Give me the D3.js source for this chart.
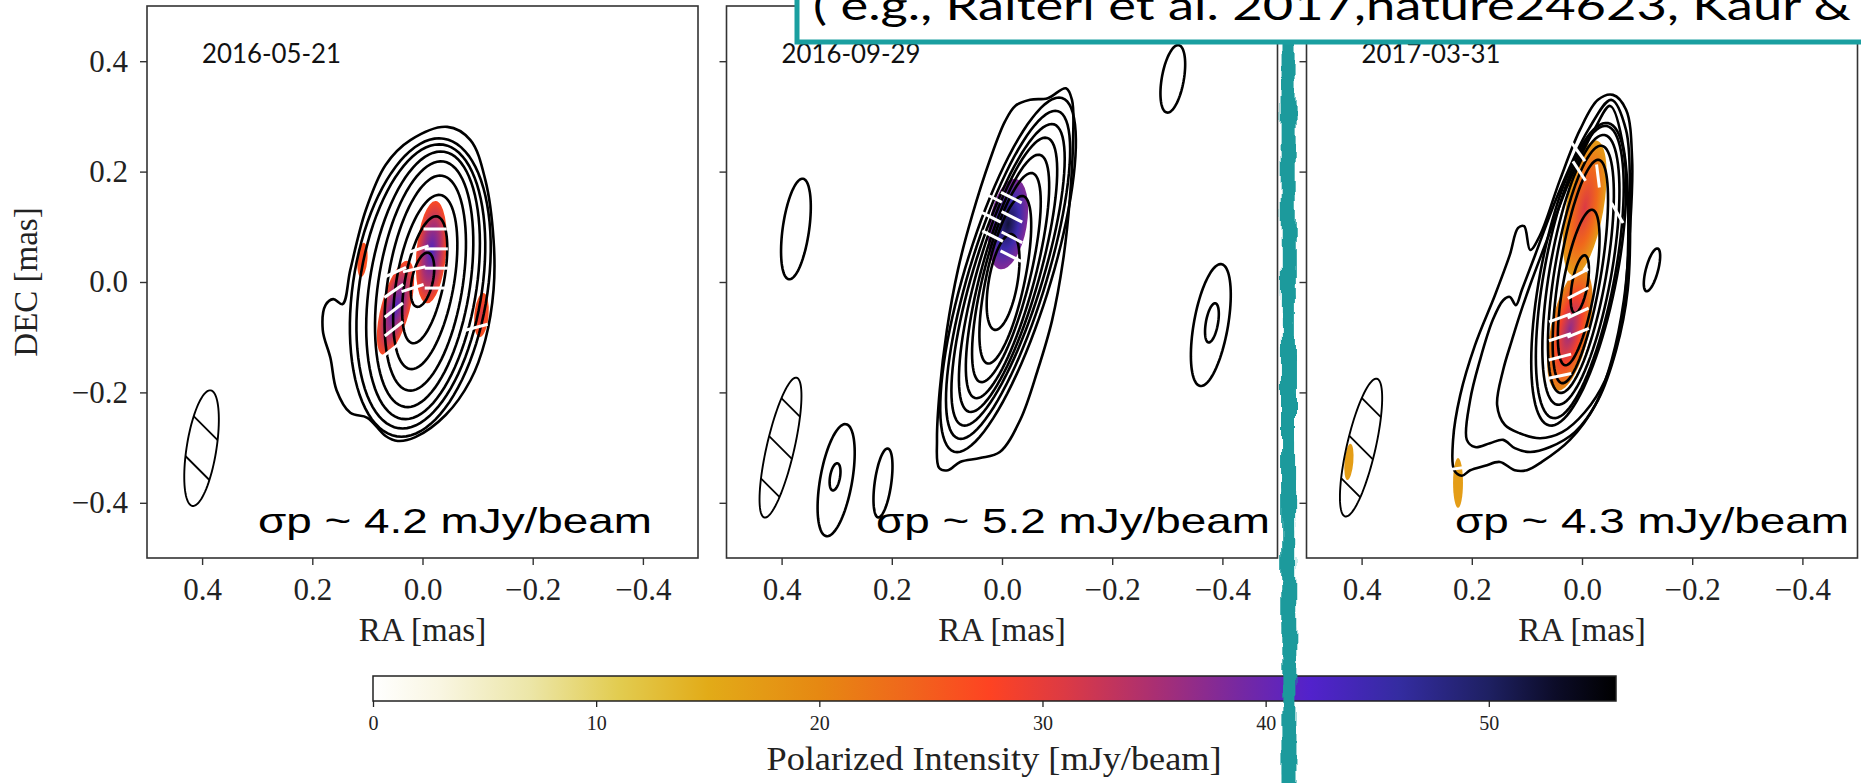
<!DOCTYPE html>
<html>
<head>
<meta charset="utf-8">
<script src="https://cdn.jsdelivr.net/npm/d3@7"></script>
<style>
body { margin:0; background:#fff; }
</style>
</head>
<body>
<div id="chart"></div>
<script>
// ---------- data ----------
var epochs = ["2016-05-21", "2016-09-29", "2017-03-31"];
var sigmaP = [4.2, 5.2, 4.3];
var raTicks = [0.4, 0.2, 0.0, -0.2, -0.4];
var decTicks = [0.4, 0.2, 0.0, -0.2, -0.4];
var cbarTicks = [0, 10, 20, 30, 40, 50];
var cbarMax = 55.7;
var cmapValues = [0, 3, 7, 11, 15, 20, 24, 27.6, 31, 35, 39, 42, 46, 50, 53, 55.7];
var cmapColors = ["#ffffff", "#f9f6e2", "#ece6a8", "#e2cc50", "#e2ab18", "#e68812", "#f0661c", "#fe4322",
                  "#dc3a44", "#aa2f72", "#7428a4", "#5222cc", "#342ca0", "#1e2062", "#0c0c28", "#000000"];

// contour ellipses: [ra, dec, semi-major, semi-minor, position angle (deg)]
var contours1 = [
  [0.004, -0.010, 0.273, 0.122, -9],
  [0.003, -0.008, 0.260, 0.111, -9],
  [-0.001, -0.006, 0.245, 0.097, -9],
  [-0.003, -0.004, 0.225, 0.083, -9],
  [-0.005, -0.002, 0.197, 0.068, -9],
  [-0.005, 0.000, 0.160, 0.052, -10],
  [-0.004, 0.004, 0.117, 0.035, -11],
  [0.000, 0.004, 0.050, 0.019, -12]
];
// irregular outer contours: [ra, dec] points
var outline1 = [
  [-0.045,0.281],[-0.087,0.257],[-0.114,0.185],[-0.129,0.076],[-0.129,-0.014],[-0.114,-0.105],
  [-0.087,-0.178],[-0.042,-0.241],[0.013,-0.281],[0.045,-0.288],[0.067,-0.279],[0.100,-0.246],
  [0.131,-0.237],[0.156,-0.196],[0.167,-0.138],[0.181,-0.087],[0.176,-0.042],[0.162,-0.031],
  [0.145,-0.040],[0.131,0.022],[0.103,0.130],[0.067,0.212],[0.022,0.257]
];
var islands1 = [];

var contours2 = [
  [-0.011, 0.013, 0.335, 0.078, -17],
  [-0.011, 0.013, 0.310, 0.070, -17],
  [-0.011, 0.013, 0.285, 0.063, -17],
  [-0.011, 0.013, 0.258, 0.056, -16],
  [-0.010, 0.010, 0.228, 0.049, -15],
  [-0.008, 0.008, 0.195, 0.042, -14],
  [-0.006, 0.004, 0.155, 0.035, -12],
  [-0.002, 0.000, 0.088, 0.026, -10]
];
var outline2 = [
  [-0.116,0.351],[-0.127,0.330],[-0.129,0.257],[-0.123,0.149],[-0.111,0.040],[-0.091,-0.069],
  [-0.065,-0.159],[-0.033,-0.250],[0.004,-0.308],[0.040,-0.319],[0.076,-0.326],[0.098,-0.341],
  [0.114,-0.337],[0.118,-0.286],[0.113,-0.196],[0.100,-0.087],[0.080,0.022],[0.054,0.121],
  [0.022,0.221],[-0.005,0.290],[-0.024,0.319],[-0.051,0.330],[-0.083,0.333]
];
var islands2 = [
  [0.374, 0.096, 0.092, 0.024, -8],
  [-0.310, 0.368, 0.062, 0.020, -10],
  [-0.379, -0.078, 0.112, 0.031, -10],
  [-0.381, -0.074, 0.036, 0.011, -10],
  [0.301, -0.359, 0.103, 0.029, -10],
  [0.303, -0.353, 0.025, 0.009, -10],
  [0.216, -0.364, 0.063, 0.015, -8]
];

var contours3 = [
  [0.006, 0.014, 0.279, 0.069, -11],
  [0.004, 0.018, 0.269, 0.064, -10.5],
  [0.002, 0.022, 0.248, 0.056, -10],
  [0.002, 0.023, 0.227, 0.047, -9.6],
  [0.003, 0.019, 0.205, 0.038, -9.4],
  [0.006, -0.010, 0.143, 0.029, -10],
  [0.004, -0.004, 0.053, 0.014, -10]
];
var outline3 = [
  [-0.056,0.339],[-0.080,0.312],[-0.091,0.221],[-0.087,0.094],[-0.076,-0.033],[-0.054,-0.141],
  [-0.024,-0.223],[0.022,-0.286],[0.073,-0.326],[0.100,-0.341],[0.122,-0.341],[0.149,-0.326],
  [0.176,-0.333],[0.203,-0.341],[0.218,-0.351],[0.232,-0.341],[0.234,-0.286],[0.221,-0.205],
  [0.194,-0.114],[0.158,-0.024],[0.131,0.049],[0.116,0.098],[0.105,0.101],[0.094,0.058],
  [0.076,0.085],[0.040,0.185],[0.004,0.275],[-0.029,0.330]
];
var outline3b = [
  [-0.053,0.330],[-0.080,0.275],[-0.087,0.149],[-0.083,-0.014],[-0.062,-0.123],[-0.029,-0.214],
  [0.013,-0.272],[0.058,-0.299],[0.094,-0.308],[0.122,-0.301],[0.143,-0.286],[0.167,-0.292],
  [0.194,-0.299],[0.209,-0.286],[0.203,-0.214],[0.185,-0.141],[0.162,-0.069],[0.143,-0.033],
  [0.131,-0.027],[0.120,-0.042],[0.109,-0.014],[0.085,0.049],[0.040,0.167],[-0.011,0.275]
];
var outline3c = [
  [-0.051,0.319],[-0.076,0.239],[-0.083,0.040],[-0.069,-0.087],[-0.042,-0.178],[-0.005,-0.236],
  [0.036,-0.272],[0.076,-0.283],[0.113,-0.274],[0.140,-0.259],[0.154,-0.223],[0.143,-0.159],
  [0.127,-0.105],[0.113,-0.060],[0.094,-0.005],[0.067,0.067],[0.022,0.185],[-0.024,0.279]
];
var islands3 = [
  [-0.127, 0.022, 0.040, 0.011, -15]
];

// polarized intensity patches: [ra, dec, semi-major, semi-minor, pa, peak, edge]
var patches1 = [
  [-0.016, 0.054, 0.093, 0.027, -5, 43, 27],
  [0.049, -0.047, 0.088, 0.026, -15, 43, 27],
  [0.109, 0.040, 0.031, 0.009, -5, 28, 26],
  [-0.107, -0.060, 0.040, 0.013, -5, 31, 26]
];
var patches2 = [
  [-0.011, 0.105, 0.083, 0.034, -10, 52, 38]
];
var patches3 = [
  [0.004, 0.212, 0.045, 0.011, -30, 17, 17],
  [-0.005, 0.134, 0.124, 0.034, -10, 31, 17],
  [0.022, -0.087, 0.112, 0.035, -12, 37, 20],
  [0.225, -0.364, 0.045, 0.009, 0, 17, 17],
  [0.423, -0.326, 0.033, 0.008, -5, 17, 17]
];

// EVPA sticks: [ra, dec, angle on the page (deg, anticlockwise)]
var evpa1 = [
  [-0.023,0.096,0],[-0.025,0.060,0],[-0.025,0.025,0],[-0.025,-0.011,0],
  [0.009,0.059,18],[0.015,0.023,13],[0.018,-0.011,18],
  [0.049,0.018,24],[0.052,-0.016,35],[0.052,-0.051,38],[0.052,-0.085,38],[0.054,-0.121,38],
  [-0.098,-0.082,15]
];
var evpa2 = [
  [0.019,0.154,-27],[-0.017,0.153,-27],[0.021,0.118,-27],[-0.018,0.118,-27],
  [0.017,0.083,-27],[-0.018,0.081,-27],[-0.016,0.047,-27]
];
var evpa3 = [
  [0.007,0.236,-54],[0.005,0.201,-57],[-0.029,0.192,-83],[-0.064,0.125,-60],
  [0.007,0.014,28],[0.007,-0.020,27],[0.007,-0.056,25],[0.007,-0.092,22],
  [0.040,-0.065,20],[0.040,-0.100,18],[0.040,-0.136,15],[0.040,-0.170,12],
  [0.221,-0.337,8]
];

// restoring beams: [ra, dec, semi-major, semi-minor, pa]
var beams = [
  [0.401, -0.301, 0.106, 0.027, -9],
  [0.402, -0.300, 0.130, 0.025, -13],
  [0.401, -0.300, 0.128, 0.026, -13]
];
var beamHatch = [2, 3, 3];

var banner = "( e.g., Raiteri et al. 2017,nature24623, Kaur &";

// ---------- layout ----------
var W = 551, H = 552, panelTop = 6;
var lefts = [147, 726.5, 1306.5];
var sigmaX = [258, 876, 1455];
var serif = "'Liberation Serif', 'DejaVu Serif', serif";

var panels = [
  {date: epochs[0], sigma: sigmaP[0], ell: contours1, outl: [outline1], isl: islands1, pat: patches1, evpa: evpa1},
  {date: epochs[1], sigma: sigmaP[1], ell: contours2, outl: [outline2], isl: islands2, pat: patches2, evpa: evpa2},
  {date: epochs[2], sigma: sigmaP[2], ell: contours3, outl: [outline3, outline3b, outline3c], isl: islands3, pat: patches3, evpa: evpa3}
];

var svg = d3.select("#chart").append("svg")
    .attr("width", 1861).attr("height", 783);
svg.append("rect").attr("width", 1861).attr("height", 783).attr("fill", "#fff");
var defs = svg.append("defs");

var color = d3.scaleLinear().domain(cmapValues).range(cmapColors).clamp(true);

var x = d3.scaleLinear().domain([0.5, -0.5]).range([0, W]);
var y = d3.scaleLinear().domain([-0.5, 0.5]).range([H, 0]);

function ellipsePts(e) {
    var pa = e[4] * Math.PI / 180, pts = [];
    for (var i = 0; i < 90; i++) {
        var t = i / 90 * 2 * Math.PI;
        var u = e[2] * Math.cos(t), v = e[3] * Math.sin(t);
        pts.push([e[0] + u * Math.sin(pa) + v * Math.cos(pa),
                  e[1] + u * Math.cos(pa) - v * Math.sin(pa)]);
    }
    return pts;
}
var ellLine = d3.line().x(function(d){ return x(d[0]); }).y(function(d){ return y(d[1]); })
    .curve(d3.curveLinearClosed);
var smoothLine = d3.line().x(function(d){ return x(d[0]); }).y(function(d){ return y(d[1]); })
    .curve(d3.curveCatmullRomClosed.alpha(0.5));

panels.forEach(function(p, i) {
    var g = svg.append("g").attr("transform", "translate(" + lefts[i] + "," + panelTop + ")");

    defs.append("clipPath").attr("id", "clip" + i)
        .append("rect").attr("width", W).attr("height", H);
    var inner = g.append("g").attr("clip-path", "url(#clip" + i + ")");

    // polarized intensity
    p.pat.forEach(function(d, j) {
        var gid = "pg" + i + "_" + j;
        var gr = defs.append("radialGradient").attr("id", gid);
        gr.append("stop").attr("offset", "0%").attr("stop-color", color(d[5]));
        gr.append("stop").attr("offset", "55%").attr("stop-color", color((d[5] + d[6]) / 2));
        gr.append("stop").attr("offset", "100%").attr("stop-color", color(d[6]));
        inner.append("ellipse")
            .attr("cx", x(d[0])).attr("cy", y(d[1]))
            .attr("rx", x(0) - x(d[3])).attr("ry", y(0) - y(d[2]))
            .attr("transform", "rotate(" + (-d[4]) + "," + x(d[0]) + "," + y(d[1]) + ")")
            .attr("fill", "url(#" + gid + ")");
    });

    // total intensity contours
    inner.selectAll(".outl").data(p.outl).enter().append("path")
        .attr("class", "outl")
        .attr("d", smoothLine)
        .attr("fill", "none").attr("stroke", "#000").attr("stroke-width", 2.6);
    inner.selectAll(".ell").data(p.ell.concat(p.isl)).enter().append("path")
        .attr("class", "ell")
        .attr("d", function(d){ return ellLine(ellipsePts(d)); })
        .attr("fill", "none").attr("stroke", "#000").attr("stroke-width", 2.6);

    // EVPA sticks
    var half = (x(0) - x(0.042)) / 2;
    inner.selectAll(".evpa").data(p.evpa).enter().append("line")
        .attr("x1", function(d){ return x(d[0]) - half * Math.cos(d[2] * Math.PI / 180); })
        .attr("x2", function(d){ return x(d[0]) + half * Math.cos(d[2] * Math.PI / 180); })
        .attr("y1", function(d){ return y(d[1]) + half * Math.sin(d[2] * Math.PI / 180); })
        .attr("y2", function(d){ return y(d[1]) - half * Math.sin(d[2] * Math.PI / 180); })
        .attr("stroke", "#fff").attr("stroke-width", 3).attr("stroke-linecap", "butt");

    // beam with hatching
    var b = beams[i];
    defs.append("clipPath").attr("id", "beam" + i)
        .append("path").attr("d", ellLine(ellipsePts(b)));
    var bg = inner.append("g").attr("clip-path", "url(#beam" + i + ")");
    var pa = b[4] * Math.PI / 180;
    var ux = -Math.sin(pa), uy = -Math.cos(pa);
    var n = beamHatch[i];
    for (var k = 0; k < n; k++) {
        var off = (k - (n - 1) / 2) * 42;
        var cx = x(b[0]) + ux * off, cy = y(b[1]) + uy * off;
        bg.append("line")
            .attr("x1", cx - 40).attr("y1", cy - 40).attr("x2", cx + 40).attr("y2", cy + 40)
            .attr("stroke", "#000").attr("stroke-width", 1.8);
    }
    inner.append("path").attr("d", ellLine(ellipsePts(b)))
        .attr("fill", "none").attr("stroke", "#000").attr("stroke-width", 1.9);

    // frame
    g.append("rect").attr("width", W).attr("height", H)
        .attr("fill", "none").attr("stroke", "#333").attr("stroke-width", 1.6);

    // axes
    var xAxis = d3.axisBottom(x).tickValues(raTicks).tickFormat(d3.format(".1f"))
        .tickSize(7).tickPadding(13);
    var xg = g.append("g").attr("transform", "translate(0," + H + ")").call(xAxis);
    var yAxis = d3.axisLeft(y).tickValues(decTicks).tickSize(7).tickPadding(12)
        .tickFormat(i === 0 ? d3.format(".1f") : "");
    var yg = g.append("g").call(yAxis);
    [xg, yg].forEach(function(a) {
        a.select(".domain").remove();
        a.selectAll(".tick line").attr("stroke", "#333").attr("stroke-width", 1.4);
        a.selectAll(".tick text").attr("font-family", serif).attr("font-size", 31).attr("fill", "#222");
    });

    g.append("text")
        .attr("x", W / 2).attr("y", 635)
        .attr("text-anchor", "middle")
        .attr("font-family", serif).attr("font-size", 33).attr("fill", "#222")
        .text("RA [mas]");

    g.append("text")
        .attr("x", 55).attr("y", 57)
        .attr("font-family", "Lato, 'DejaVu Sans', sans-serif").attr("font-size", 26)
        .attr("textLength", 139).attr("lengthAdjust", "spacingAndGlyphs")
        .attr("fill", "#111")
        .text(p.date);

    svg.append("text")
        .attr("x", sigmaX[i]).attr("y", 533)
        .attr("font-family", "'Liberation Sans', Arial, sans-serif").attr("font-size", 35)
        .attr("textLength", 394).attr("lengthAdjust", "spacingAndGlyphs")
        .attr("fill", "#000")
        .text("\u03c3p ~ " + p.sigma + " mJy/beam");
});

svg.append("text")
    .attr("transform", "translate(37,282) rotate(-90)")
    .attr("text-anchor", "middle")
    .attr("font-family", serif).attr("font-size", 33).attr("fill", "#222")
    .text("DEC [mas]");

// ---------- colour bar ----------
var cb = d3.scaleLinear().domain([0, cbarMax]).range([373, 1616]);
var lg = defs.append("linearGradient").attr("id", "cbar");
cmapValues.forEach(function(v, j) {
    lg.append("stop").attr("offset", (v / cbarMax * 100) + "%").attr("stop-color", cmapColors[j]);
});
svg.append("rect").attr("x", 373).attr("y", 676).attr("width", 1616 - 373).attr("height", 25)
    .attr("fill", "url(#cbar)").attr("stroke", "#222").attr("stroke-width", 1.5);
var cg = svg.append("g").attr("transform", "translate(0,701)")
    .call(d3.axisBottom(cb).tickValues(cbarTicks).tickFormat(d3.format("d")).tickSize(6).tickPadding(9));
cg.select(".domain").remove();
cg.selectAll(".tick line").attr("stroke", "#222").attr("stroke-width", 1.3);
cg.selectAll(".tick text").attr("font-family", serif).attr("font-size", 20).attr("fill", "#222");
svg.append("text")
    .attr("x", 994).attr("y", 770)
    .attr("text-anchor", "middle")
    .attr("font-family", serif).attr("font-size", 34).attr("fill", "#222")
    .attr("textLength", 455).attr("lengthAdjust", "spacingAndGlyphs")
    .text("Polarized Intensity [mJy/beam]");

// ---------- teal annotation ----------
var f = defs.append("filter").attr("id", "rough")
    .attr("filterUnits", "userSpaceOnUse")
    .attr("x", 1250).attr("y", 0).attr("width", 80).attr("height", 783);
f.append("feTurbulence").attr("type", "fractalNoise").attr("baseFrequency", "0.09 0.04")
    .attr("numOctaves", 2).attr("seed", 3).attr("result", "n");
f.append("feDisplacementMap").attr("in", "SourceGraphic").attr("in2", "n")
    .attr("scale", 9).attr("xChannelSelector", "R").attr("yChannelSelector", "G");
svg.append("line")
    .attr("x1", 1288).attr("y1", 30).attr("x2", 1289).attr("y2", 790)
    .attr("stroke", "#1a9a9c").attr("stroke-width", 15)
    .attr("filter", "url(#rough)");

svg.append("rect")
    .attr("x", 797).attr("y", -20).attr("width", 1100).attr("height", 62)
    .attr("fill", "#fff").attr("stroke", "#1a9fa0").attr("stroke-width", 5);
svg.append("text")
    .attr("x", 813).attr("y", 20)
    .attr("font-family", "Lato, 'DejaVu Sans', sans-serif").attr("font-size", 40)
    .attr("textLength", 1038).attr("lengthAdjust", "spacingAndGlyphs")
    .attr("fill", "#000")
    .text(banner);
</script>
</body>
</html>
